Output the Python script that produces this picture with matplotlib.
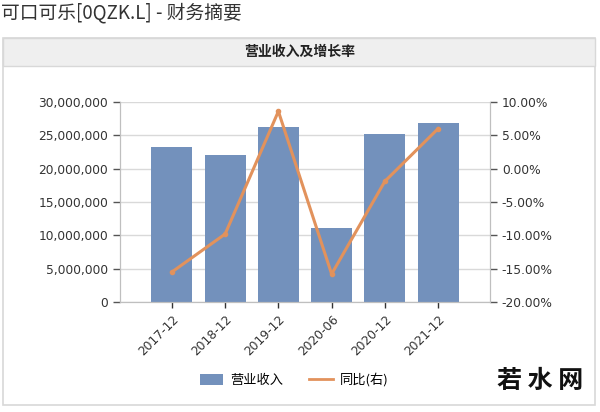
import matplotlib
matplotlib.use("Agg")
import matplotlib.pyplot as plt
from matplotlib.patches import Rectangle
from matplotlib.lines import Line2D
from matplotlib.ticker import FuncFormatter, MultipleLocator

plt.rcParams['font.family'] = ['Noto Sans CJK SC', 'DejaVu Sans']

categories = ["2017-12", "2018-12", "2019-12", "2020-06", "2020-12", "2021-12"]
revenue = [23200000, 22000000, 26200000, 11100000, 25200000, 26800000]
yoy_pct = [-15.5, -9.8, 8.6, -15.8, -1.9, 6.0]

bar_color = "#7391BC"
line_color = "#E2925C"

fig = plt.figure(figsize=(6.0, 4.12), dpi=100)
W, H = 600, 412

def fx(x):
    return x / W

def fy(y):
    return 1 - y / H

# page title
fig.text(fx(1), fy(13), "可口可乐[0QZK.L] - 财务摘要", fontsize=13.5, color="#333333",
         ha="left", va="center")

# panel
fig.patches.append(Rectangle((fx(3), fy(405)), fx(592), (405 - 38) / H,
                             transform=fig.transFigure, facecolor="white",
                             edgecolor="#D8D8D8", linewidth=1.2, zorder=-2))
fig.patches.append(Rectangle((fx(3), fy(66)), fx(592), 28 / H,
                             transform=fig.transFigure, facecolor="#EFEFEF",
                             edgecolor="#D8D8D8", linewidth=1.0, zorder=-1))
fig.text(fx(300), fy(52), "营业收入及增长率", fontsize=10, color="#222222",
         ha="center", va="center", fontweight="bold")

ax = fig.add_axes([fx(120), fy(302), fx(370), 200 / H])
ax.patch.set_alpha(0)
x = list(range(len(categories)))
ax.bar(x, revenue, width=0.77, color=bar_color, zorder=2)
ax.set_xlim(-0.975, 5.975)
ax.set_ylim(0, 30000000)
ax.yaxis.set_major_locator(MultipleLocator(5000000))
ax.yaxis.set_major_formatter(FuncFormatter(lambda v, p: f"{int(v):,}"))
ax.grid(axis="y", color="#D9D9D9", linewidth=1.0, zorder=0)
ax.set_axisbelow(True)
ax.set_xticks(x)
ax.set_xticklabels(categories, rotation=45, ha="right", rotation_mode="anchor")
for s in ["top"]:
    ax.spines[s].set_visible(False)
for s in ["left", "right", "bottom"]:
    ax.spines[s].set_color("#BFBFBF")
ax.tick_params(axis="both", colors="#333333", labelsize=8.8, length=5, width=1)
ax.tick_params(axis="y", color="#555555")
ax.tick_params(axis="x", color="#333333", length=4)
for lab in ax.get_yticklabels() + ax.get_xticklabels():
    lab.set_family(["DejaVu Sans"])

ax2 = ax.twinx()
ax2.plot(x, yoy_pct, color=line_color, linewidth=2.2, marker="o", markersize=3.0, zorder=3)
ax2.set_ylim(-20, 10)
ax2.yaxis.set_major_locator(MultipleLocator(5))
ax2.yaxis.set_major_formatter(FuncFormatter(lambda v, p: f"{v:.2f}%"))
ax2.spines["top"].set_visible(False)
for s in ["left", "right", "bottom"]:
    ax2.spines[s].set_color("#BFBFBF")
ax2.tick_params(axis="y", colors="#333333", labelsize=8.8, length=5, width=1, color="#555555")
for lab in ax2.get_yticklabels():
    lab.set_family(["DejaVu Sans"])

handles = [Rectangle((0, 0), 1, 1, facecolor=bar_color),
           Line2D([0], [0], color=line_color, linewidth=2)]
fig.legend(handles, ["营业收入", "同比(右)"], loc="center", bbox_to_anchor=(fx(294), fy(380)),
           ncol=2, frameon=False, fontsize=9.5, handlelength=1.8, handleheight=0.9,
           columnspacing=2.0, handletextpad=0.5)

fig.text(fx(540), fy(381), "若 水 网", fontsize=18, color="#111111", ha="center",
         va="center", fontweight="bold")

fig.savefig("out.png", dpi=100)
